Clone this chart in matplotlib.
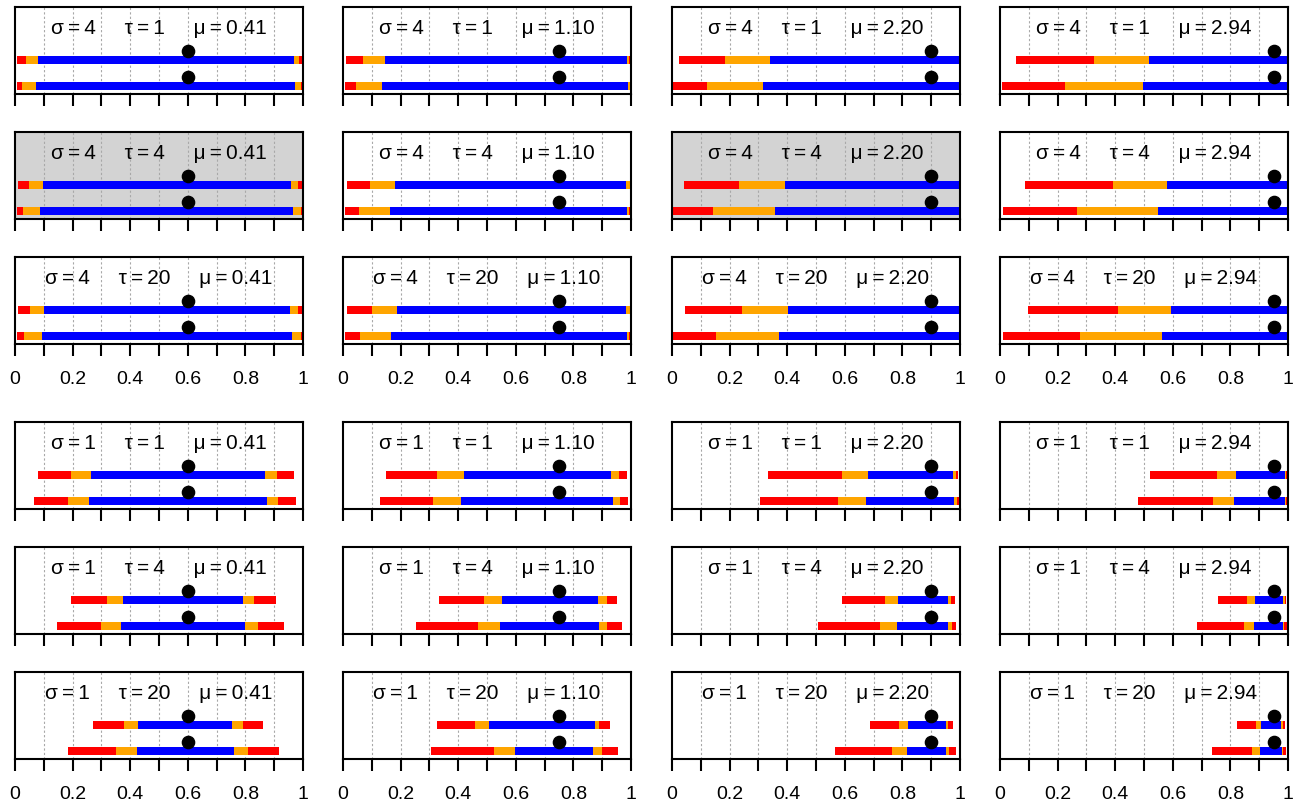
import numpy as np
import matplotlib.pyplot as plt

plt.rcParams['font.family'] = ['Liberation Sans', 'DejaVu Sans']

# panel labels
sigmas = [4, 4, 4, 1, 1, 1]
taus = [1, 4, 20, 1, 4, 20]
mus = ['0.41', '1.10', '2.20', '2.94']
truth = [0.6, 0.75, 0.9, 0.95]
shaded = [(1, 0), (1, 2)]

tick_pos = np.linspace(0, 1, 11)
tick_labels = ['0', '', '0.2', '', '0.4', '', '0.6', '', '0.8', '', '1']

# breakpoints of each interval: red | orange | blue | orange | red
upper = [
    [[0.007, 0.038, 0.080, 0.969, 0.986, 0.998], [0.010, 0.069, 0.146, 0.986, 0.993, 1.0],
     [0.024, 0.184, 0.340, 1, 1, 1], [0.056, 0.326, 0.517, 1, 1, 1]],
    [[0.010, 0.049, 0.097, 0.958, 0.983, 1.0], [0.014, 0.094, 0.181, 0.983, 0.997, 1.0],
     [0.042, 0.233, 0.392, 1, 1, 1], [0.087, 0.392, 0.580, 1, 1, 1]],
    [[0.010, 0.052, 0.101, 0.955, 0.983, 1.0], [0.014, 0.101, 0.188, 0.983, 0.997, 1.0],
     [0.045, 0.243, 0.403, 1, 1, 1], [0.097, 0.410, 0.594, 1, 1, 1]],
    [[0.080, 0.194, 0.264, 0.868, 0.910, 0.969], [0.149, 0.326, 0.420, 0.931, 0.958, 0.986],
     [0.333, 0.590, 0.681, 0.976, 0.986, 0.993], [0.521, 0.753, 0.819, 0.990, 0.993, 0.997]],
    [[0.194, 0.319, 0.375, 0.792, 0.830, 0.906], [0.333, 0.490, 0.552, 0.885, 0.917, 0.951],
     [0.590, 0.740, 0.785, 0.958, 0.969, 0.983], [0.757, 0.858, 0.885, 0.983, 0.990, 0.993]],
    [[0.271, 0.378, 0.427, 0.753, 0.792, 0.861], [0.326, 0.458, 0.507, 0.875, 0.889, 0.927],
     [0.688, 0.788, 0.819, 0.951, 0.958, 0.976], [0.823, 0.889, 0.906, 0.976, 0.983, 0.990]],
]
lower = [
    [[0.007, 0.024, 0.073, 0.972, 0.993, 0.998], [0.007, 0.045, 0.135, 0.990, 1.0, 1.0],
     [0.003, 0.122, 0.316, 1, 1, 1], [0.007, 0.226, 0.497, 1, 1, 1]],
    [[0.007, 0.028, 0.087, 0.965, 0.993, 1.0], [0.007, 0.056, 0.163, 0.986, 0.993, 1.0],
     [0.003, 0.142, 0.358, 1, 1, 1], [0.010, 0.267, 0.549, 1, 1, 1]],
    [[0.007, 0.031, 0.094, 0.962, 0.993, 1.0], [0.007, 0.059, 0.167, 0.986, 0.993, 1.0],
     [0.003, 0.153, 0.372, 1, 1, 1], [0.010, 0.278, 0.563, 1, 1, 1]],
    [[0.066, 0.184, 0.257, 0.875, 0.913, 0.976], [0.128, 0.313, 0.410, 0.938, 0.962, 0.990],
     [0.306, 0.576, 0.674, 0.979, 0.990, 0.997], [0.479, 0.740, 0.813, 0.990, 0.993, 0.997]],
    [[0.146, 0.299, 0.368, 0.799, 0.844, 0.934], [0.253, 0.469, 0.545, 0.889, 0.917, 0.969],
     [0.507, 0.722, 0.781, 0.958, 0.972, 0.986], [0.684, 0.847, 0.882, 0.983, 0.986, 0.997]],
    [[0.184, 0.351, 0.424, 0.760, 0.809, 0.917], [0.306, 0.524, 0.597, 0.868, 0.899, 0.955],
     [0.566, 0.764, 0.816, 0.951, 0.962, 0.986], [0.736, 0.875, 0.903, 0.979, 0.983, 0.993]],
]
seg_colors = ['#FF0000', '#FFA500', '#0000FF', '#FFA500', '#FF0000']

W, H = 1308, 809
fig = plt.figure(figsize=(W / 100, H / 100), dpi=100)

# panel placement in pixels
lefts = [15, 343, 672, 1000]
tops = [7, 132, 257, 422, 547, 672]
pw, ph = 288, 87

ts = '\u2009'  # thin space around "="
gap = '     '

for i in range(6):
    for j in range(4):
        ax = fig.add_axes([lefts[j] / W, 1 - (tops[i] + ph) / H, pw / W, ph / H])
        if (i, j) in shaded:
            ax.set_facecolor('#D3D3D3')

        for x in tick_pos[1:-1]:
            ax.axvline(x, color='#A8A8A8', ls=(0, (2, 2)), lw=0.8, zorder=0)

        for y, b in ((2, upper[i][j]), (1, lower[i][j])):
            b = np.array(b)
            ax.barh([y] * 5, np.diff(b), left=b[:-1], height=0.3,
                    color=seg_colors, linewidth=0, zorder=2)

        ax.plot([truth[j], truth[j]], [1.35, 2.35], 'o', color='black', ms=8.8, zorder=5)

        label = (f'σ{ts}={ts}{sigmas[i]}{gap}τ{ts}={ts}{taus[i]}'
                 f'{gap}μ{ts}={ts}{mus[j]}')
        ax.text(0.5, 3.2, label, ha='center', va='center', fontsize=15)

        ax.set_xlim(0, 1)
        ax.set_ylim(0.69, 4.04)
        ax.set_yticks([])
        ax.set_xticks(tick_pos)
        if i in (2, 5):
            ax.set_xticklabels(tick_labels)
        else:
            ax.set_xticklabels([''] * 11)
        ax.tick_params(axis='x', length=8.5, width=1.5, direction='out', pad=11, labelsize=14)
        for s in ax.spines.values():
            s.set_linewidth(1.5)

fig.savefig('out.png', dpi=100)
